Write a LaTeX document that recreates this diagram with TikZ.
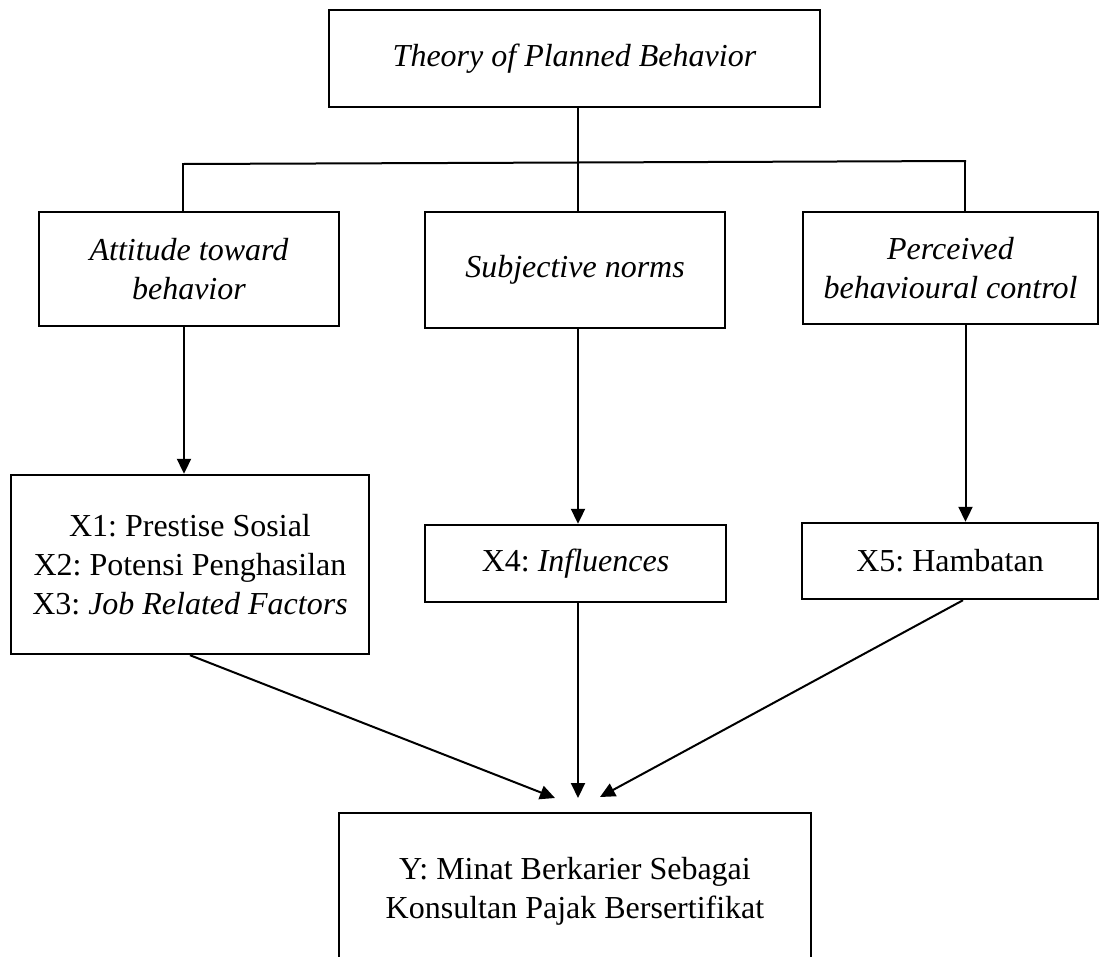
\documentclass[tikz,border=0pt]{standalone}
\usepackage{fontspec}
\setmainfont{Liberation Serif}
\usetikzlibrary{arrows.meta}
\frenchspacing
\begin{document}
\begin{tikzpicture}[x=1pt,y=-1pt,
  box/.style={draw=black,line width=2.4pt,rectangle,inner sep=0pt,align=center,
    font=\fontsize{32}{39}\selectfont\frenchspacing},
  conn/.style={line width=2pt},
  arr/.style={line width=2pt,-{Triangle[length=15pt,width=14pt]}}]
\useasboundingbox (0,0) rectangle (1099,956);
\fill[white] (0,0) rectangle (1099,956);
% boxes
\node[box,minimum width=491pt,minimum height=97pt] (tpb) at (574.5,58.5) {\textit{Theory of Planned Behavior}};
\node[box,minimum width=300pt,minimum height=114pt] (att) at (189,269) {\textit{Attitude toward}\\\textit{behavior}};
\node[box,minimum width=300pt,minimum height=116pt] (sub) at (575,270) {\textit{Subjective norms}};
\node[box,minimum width=295pt,minimum height=112pt] (per) at (950.5,268) {\textit{Perceived}\\\textit{behavioural control}};
\node[box,minimum width=358pt,minimum height=179pt] (xa) at (190,564.5) {X1: Prestise Sosial\\X2: Potensi Penghasilan\\X3: \textit{Job Related Factors}};
\node[box,minimum width=301pt,minimum height=77pt] (xb) at (575.5,563.5) {X4: \textit{Influences}};
\node[box,minimum width=296pt,minimum height=76pt] (xc) at (950,561) {X5: Hambatan};
\node[box,minimum width=472pt,minimum height=157pt] (y) at (575,891.5) {Y: Minat Berkarier Sebagai\\Konsultan Pajak Bersertifikat};
% tree connectors
\coordinate (jm) at (578,162.5);
\coordinate (jl) at (183,164);
\coordinate (jr) at (965,161);
\draw[conn] (jm |- tpb.south) -- (jm);
\draw[conn,line cap=rect] (jl) -- (jm) -- (jr);
\draw[conn] (jl) -- (jl |- att.north);
\draw[conn] (jm) -- (jm |- sub.north);
\draw[conn] (jr) -- (jr |- per.north);
% vertical arrows
\coordinate (va) at (184,400);
\coordinate (vb) at (578,400);
\coordinate (vc) at (965.5,400);
\draw[arr] (va |- att.south) -- (va |- xa.north);
\draw[arr] (vb |- sub.south) -- (vb |- xb.north);
\draw[arr] (vc |- per.south) -- (vc |- xc.north);
% arrows to Y
\coordinate (tl) at (555,798);
\coordinate (tm) at (578,798);
\coordinate (tr) at (600,797);
\draw[arr] (xa.south) -- (tl);
\draw[arr] (tm |- xb.south) -- (tm);
\draw[arr] ([xshift=13pt]xc.south) -- (tr);
\end{tikzpicture}
\end{document}
